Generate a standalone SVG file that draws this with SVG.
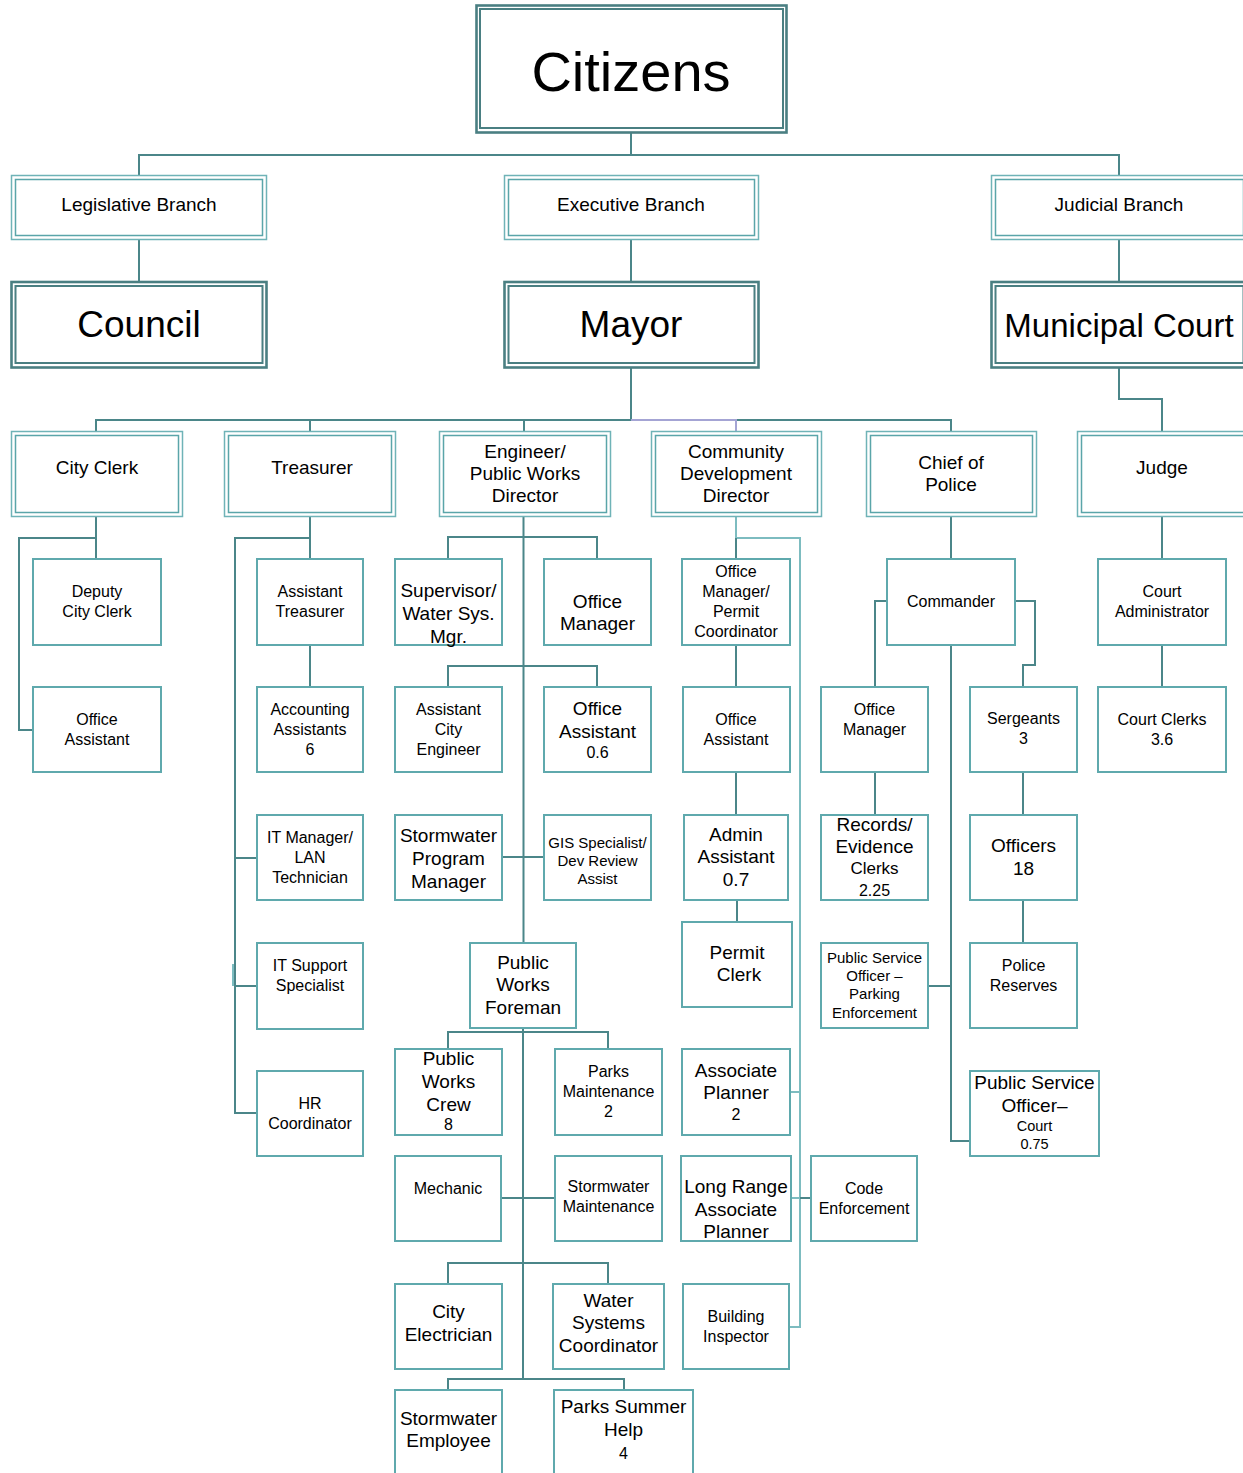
<svg xmlns="http://www.w3.org/2000/svg" width="1243" height="1473" viewBox="0 0 1243 1473">
<style>
text{font-family:"Liberation Sans",Arial,sans-serif;fill:#000;text-anchor:middle}
.bx{fill:#fff;stroke:#5fa9ad;stroke-width:2}
.dbo{fill:#fff;stroke:#6fb3b7;stroke-width:1.5}
.dbi{fill:none;stroke:#5aa5a9;stroke-width:1.5}
.tko{fill:#fff;stroke:#4a7f82;stroke-width:2.6}
.tki{fill:none;stroke:#4a7f82;stroke-width:2}
.c{fill:none;stroke:#4b8689;stroke-width:2}
.cl{fill:none;stroke:#7dbcc0;stroke-width:2}
.cp{fill:none;stroke:#a4a4d4;stroke-width:2}
.f56{font-size:56px}.f37{font-size:37px}.f33{font-size:33px}
.f19{font-size:19px}.f16{font-size:16px}.f15{font-size:15px}.f14{font-size:14.5px}.f17{font-size:17px}
</style>
<g id="connectors">
<path class="c" d="M631 133V155M139 175V155H1119V175M139 240V282M631 240V282M1119 240V282"/>
<path class="c" d="M631 368V420M96 432V420H631M310 420V432M524 420V432M736 420H951V432M1119 368V399H1162V432"/>
<path class="cp" d="M631 420H736V432"/>
<path class="c" d="M96 517V559M96 538H19V730H33"/>
<path class="c" d="M310 517V559M310 645V687M310 538H235V1113H257M235 858H257M235 986H257"/>
<path class="cl" d="M233 964V986" stroke-width="1.5"/>
<path class="c" d="M523.5 517V943M448 559V537H597V559M448 687V666H597V687M502 857H544M523 1028V1379M448 1049V1032H608V1049M501 1198H555M448 1284V1263H608V1284M448 1390V1379H624V1390"/>
<path class="cl" d="M736 517V538H800V1327H789M790 1092H800M791 1198H800"/>
<path class="c" d="M736 538V559M800 1198H811M736 645V687M736 772V815M737 900V922"/>
<path class="c" d="M951 517V559M887 601H875V687M1015 601H1035V665H1023V687M951 645V1141H970M875 772V815M928 986H951M1023 772V815M1023 900V943"/>
<path class="c" d="M1162 517V559M1162 645V687"/>
</g>
<g id="citizens"><rect class="tko" x="476.5" y="5.5" width="310" height="127"/><rect class="tki" x="480" y="9" width="303" height="119"/><text class="f56" x="631" y="91">Citizens</text></g>
<g id="legislative"><rect class="dbo" x="11.5" y="175.5" width="255" height="64"/><rect class="dbi" x="15.5" y="179.5" width="247" height="56"/><text class="f19" x="139" y="211">Legislative Branch</text></g>
<g id="executive"><rect class="dbo" x="504.5" y="175.5" width="254" height="64"/><rect class="dbi" x="508.5" y="179.5" width="246" height="56"/><text class="f19" x="631" y="211">Executive Branch</text></g>
<g id="judicial"><rect class="dbo" x="991.5" y="175.5" width="256" height="64"/><rect class="dbi" x="995.5" y="179.5" width="248" height="56"/><text class="f19" x="1119" y="211">Judicial Branch</text></g>
<g id="council"><rect class="tko" x="11.5" y="282" width="255" height="85.5"/><rect class="tki" x="15.5" y="286" width="247" height="77"/><text class="f37" x="139" y="337">Council</text></g>
<g id="mayor"><rect class="tko" x="504.5" y="282" width="254" height="85.5"/><rect class="tki" x="508.5" y="286" width="246" height="77"/><text class="f37" x="631" y="337">Mayor</text></g>
<g id="municipal-court"><rect class="tko" x="991.5" y="282" width="256" height="85.5"/><rect class="tki" x="995.5" y="286" width="248" height="77"/><text class="f33" x="1119" y="337">Municipal Court</text></g>
<g id="city-clerk"><rect class="dbo" x="11.5" y="431.5" width="171" height="85"/><rect class="dbi" x="15.5" y="435.5" width="163" height="77"/><text class="f19" x="97" y="474">City Clerk</text></g>
<g id="treasurer"><rect class="dbo" x="224.5" y="431.5" width="171" height="85"/><rect class="dbi" x="228.5" y="435.5" width="163" height="77"/><text class="f19" x="312" y="474">Treasurer</text></g>
<g id="engineer"><rect class="dbo" x="439.5" y="431.5" width="171" height="85"/><rect class="dbi" x="443.5" y="435.5" width="163" height="77"/><text class="f19" x="525" y="458">Engineer/</text><text class="f19" x="525" y="480">Public Works</text><text class="f19" x="525" y="502">Director</text></g>
<g id="community-dev"><rect class="dbo" x="651.5" y="431.5" width="170" height="85"/><rect class="dbi" x="655.5" y="435.5" width="162" height="77"/><text class="f19" x="736" y="458">Community</text><text class="f19" x="736" y="480">Development</text><text class="f19" x="736" y="502">Director</text></g>
<g id="chief-police"><rect class="dbo" x="866.5" y="431.5" width="170" height="85"/><rect class="dbi" x="870.5" y="435.5" width="162" height="77"/><text class="f19" x="951" y="469">Chief of</text><text class="f19" x="951" y="491">Police</text></g>
<g id="judge"><rect class="dbo" x="1077.5" y="431.5" width="171" height="85"/><rect class="dbi" x="1081.5" y="435.5" width="163" height="77"/><text class="f19" x="1162" y="474">Judge</text></g>

<g id="deputy-city-clerk"><rect class="bx" x="33" y="559" width="128" height="86"/><text class="f16" x="97" y="597">Deputy</text><text class="f16" x="97" y="617">City Clerk</text></g>
<g id="cc-office-assistant"><rect class="bx" x="33" y="687" width="128" height="85"/><text class="f16" x="97" y="725">Office</text><text class="f16" x="97" y="745">Assistant</text></g>
<g id="assistant-treasurer"><rect class="bx" x="257" y="559" width="106" height="86"/><text class="f16" x="310" y="597">Assistant</text><text class="f16" x="310" y="617">Treasurer</text></g>
<g id="accounting-assistants"><rect class="bx" x="257" y="687" width="106" height="85"/><text class="f16" x="310" y="715">Accounting</text><text class="f16" x="310" y="735">Assistants</text><text class="f16" x="310" y="755">6</text></g>
<g id="it-manager"><rect class="bx" x="257" y="815" width="106" height="85"/><text class="f16" x="310" y="843">IT Manager/</text><text class="f16" x="310" y="863">LAN</text><text class="f16" x="310" y="883">Technician</text></g>
<g id="it-support"><rect class="bx" x="257" y="943" width="106" height="86"/><text class="f16" x="310" y="971">IT Support</text><text class="f16" x="310" y="991">Specialist</text></g>
<g id="hr-coordinator"><rect class="bx" x="257" y="1071" width="106" height="85"/><text class="f16" x="310" y="1109">HR</text><text class="f16" x="310" y="1129">Coordinator</text></g>

<g id="supervisor"><rect class="bx" x="395" y="559" width="107" height="86"/><text class="f19" x="448.5" y="597">Supervisor/</text><text class="f19" x="448.5" y="620">Water Sys.</text><text class="f19" x="448.5" y="643">Mgr.</text></g>
<g id="eng-office-manager"><rect class="bx" x="544" y="559" width="107" height="86"/><text class="f19" x="597.5" y="608">Office</text><text class="f19" x="597.5" y="630">Manager</text></g>
<g id="assistant-city-engineer"><rect class="bx" x="395" y="687" width="107" height="85"/><text class="f16" x="448.5" y="715">Assistant</text><text class="f16" x="448.5" y="735">City</text><text class="f16" x="448.5" y="755">Engineer</text></g>
<g id="eng-office-assistant"><rect class="bx" x="544" y="687" width="107" height="85"/><text class="f19" x="597.5" y="715">Office</text><text class="f19" x="597.5" y="738">Assistant</text><text class="f16" x="597.5" y="758">0.6</text></g>
<g id="stormwater-pm"><rect class="bx" x="395" y="815" width="107" height="85"/><text class="f19" x="448.5" y="842">Stormwater</text><text class="f19" x="448.5" y="865">Program</text><text class="f19" x="448.5" y="888">Manager</text></g>
<g id="gis-specialist"><rect class="bx" x="544" y="815" width="107" height="85"/><text class="f15" x="597.5" y="848">GIS Specialist/</text><text class="f15" x="597.5" y="866">Dev Review</text><text class="f15" x="597.5" y="884">Assist</text></g>
<g id="pw-foreman"><rect class="bx" x="470" y="943" width="106" height="85"/><text class="f19" x="523" y="969">Public</text><text class="f19" x="523" y="991">Works</text><text class="f19" x="523" y="1014">Foreman</text></g>
<g id="pw-crew"><rect class="bx" x="395" y="1049" width="107" height="86"/><text class="f19" x="448.5" y="1065">Public</text><text class="f19" x="448.5" y="1088">Works</text><text class="f19" x="448.5" y="1111">Crew</text><text class="f16" x="448.5" y="1130">8</text></g>
<g id="parks-maintenance"><rect class="bx" x="555" y="1049" width="107" height="86"/><text class="f16" x="608.5" y="1077">Parks</text><text class="f16" x="608.5" y="1097">Maintenance</text><text class="f16" x="608.5" y="1117">2</text></g>
<g id="mechanic"><rect class="bx" x="395" y="1156" width="106" height="85"/><text class="f16" x="448" y="1194">Mechanic</text></g>
<g id="stormwater-maintenance"><rect class="bx" x="555" y="1156" width="107" height="85"/><text class="f16" x="608.5" y="1192">Stormwater</text><text class="f16" x="608.5" y="1212">Maintenance</text></g>
<g id="city-electrician"><rect class="bx" x="395" y="1284" width="107" height="85"/><text class="f19" x="448.5" y="1318">City</text><text class="f19" x="448.5" y="1341">Electrician</text></g>
<g id="water-systems"><rect class="bx" x="553" y="1284" width="111" height="85"/><text class="f19" x="608.5" y="1307">Water</text><text class="f19" x="608.5" y="1329">Systems</text><text class="f19" x="608.5" y="1352">Coordinator</text></g>
<g id="stormwater-employee"><rect class="bx" x="395" y="1390" width="107" height="90"/><text class="f19" x="448.5" y="1425">Stormwater</text><text class="f19" x="448.5" y="1447">Employee</text></g>
<g id="parks-summer"><rect class="bx" x="554" y="1390" width="139" height="90"/><text class="f19" x="623.5" y="1413">Parks Summer</text><text class="f19" x="623.5" y="1436">Help</text><text class="f16" x="623.5" y="1459">4</text></g>

<g id="om-permit"><rect class="bx" x="682" y="559" width="108" height="86"/><text class="f16" x="736" y="577">Office</text><text class="f16" x="736" y="597">Manager/</text><text class="f16" x="736" y="617">Permit</text><text class="f16" x="736" y="637">Coordinator</text></g>
<g id="cdd-office-assistant"><rect class="bx" x="683" y="687" width="107" height="85"/><text class="f16" x="736" y="725">Office</text><text class="f16" x="736" y="745">Assistant</text></g>
<g id="admin-assistant"><rect class="bx" x="684" y="815" width="104" height="85"/><text class="f19" x="736" y="841">Admin</text><text class="f19" x="736" y="863">Assistant</text><text class="f19" x="736" y="886">0.7</text></g>
<g id="permit-clerk"><rect class="bx" x="682" y="922" width="110" height="85"/><text class="f19" x="737" y="959">Permit</text><text class="f19" x="739" y="981">Clerk</text></g>
<g id="associate-planner"><rect class="bx" x="682" y="1049" width="108" height="86"/><text class="f19" x="736" y="1077">Associate</text><text class="f19" x="736" y="1099">Planner</text><text class="f16" x="736" y="1120">2</text></g>
<g id="long-range-planner"><rect class="bx" x="681" y="1156" width="110" height="85"/><text class="f19" x="736" y="1193">Long Range</text><text class="f19" x="736" y="1216">Associate</text><text class="f19" x="736" y="1238">Planner</text></g>
<g id="code-enforcement"><rect class="bx" x="811" y="1156" width="106" height="85"/><text class="f16" x="864" y="1194">Code</text><text class="f16" x="864" y="1214">Enforcement</text></g>
<g id="building-inspector"><rect class="bx" x="683" y="1284" width="106" height="85"/><text class="f16" x="736" y="1322">Building</text><text class="f16" x="736" y="1342">Inspector</text></g>

<g id="commander"><rect class="bx" x="887" y="559" width="128" height="86"/><text class="f16" x="951" y="607">Commander</text></g>
<g id="police-office-manager"><rect class="bx" x="821" y="687" width="107" height="85"/><text class="f16" x="874.5" y="715">Office</text><text class="f16" x="874.5" y="735">Manager</text></g>
<g id="records-clerks"><rect class="bx" x="821" y="815" width="107" height="85"/><text class="f19" x="874.5" y="831">Records/</text><text class="f19" x="874.5" y="853">Evidence</text><text class="f17" x="874.5" y="874">Clerks</text><text class="f16" x="874.5" y="896">2.25</text></g>
<g id="pso-parking"><rect class="bx" x="821" y="943" width="107" height="85"/><text class="f15" x="874.5" y="963">Public Service</text><text class="f15" x="874.5" y="981">Officer –</text><text class="f15" x="874.5" y="999">Parking</text><text class="f15" x="874.5" y="1018">Enforcement</text></g>
<g id="sergeants"><rect class="bx" x="970" y="687" width="107" height="85"/><text class="f16" x="1023.5" y="724">Sergeants</text><text class="f16" x="1023.5" y="744">3</text></g>
<g id="officers"><rect class="bx" x="970" y="815" width="107" height="85"/><text class="f19" x="1023.5" y="852">Officers</text><text class="f19" x="1023.5" y="875">18</text></g>
<g id="police-reserves"><rect class="bx" x="970" y="943" width="107" height="85"/><text class="f16" x="1023.5" y="971">Police</text><text class="f16" x="1023.5" y="991">Reserves</text></g>
<g id="pso-court"><rect class="bx" x="970" y="1071" width="129" height="85"/><text class="f19" x="1034.5" y="1089">Public Service</text><text class="f19" x="1034.5" y="1112">Officer–</text><text class="f14" x="1034.5" y="1131">Court</text><text class="f14" x="1034.5" y="1149">0.75</text></g>

<g id="court-administrator"><rect class="bx" x="1098" y="559" width="128" height="86"/><text class="f16" x="1162" y="597">Court</text><text class="f16" x="1162" y="617">Administrator</text></g>
<g id="court-clerks"><rect class="bx" x="1098" y="687" width="128" height="85"/><text class="f16" x="1162" y="725">Court Clerks</text><text class="f16" x="1162" y="745">3.6</text></g>
</svg>
